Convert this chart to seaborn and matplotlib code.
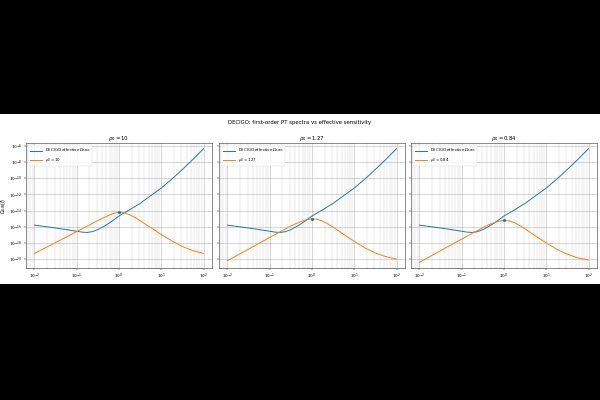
import numpy as np
import pandas as pd
import matplotlib
matplotlib.use("Agg")
import matplotlib.pyplot as plt
import seaborn as sns

# --- data (log10 values) ---
log_f_sens = [-2.0, -1.75, -1.5, -1.25, -1.0, -0.875, -0.75, -0.625, -0.5, -0.375, -0.25, -0.125,
              0.0, 0.125, 0.25, 0.375, 0.5, 0.75, 1.0, 1.25, 1.5, 1.75, 2.0]
log_omega_sens = [-15.8, -15.97, -16.15, -16.35, -16.55, -16.66, -16.7, -16.6, -16.35, -16.0, -15.6, -15.15,
                  -14.66, -14.28, -13.9, -13.5, -13.1, -12.15, -11.2, -10.1, -8.9, -7.65, -6.33]

log_f_pt = [-2.0, -1.75, -1.5, -1.25, -1.0, -0.75, -0.5, -0.375, -0.25, -0.125, 0.0,
            0.125, 0.25, 0.375, 0.5, 0.75, 1.0, 1.25, 1.5, 1.75, 2.0]
log_omega_rho10 = [-19.3, -18.63, -17.95, -17.28, -16.6, -15.92, -15.22, -14.9, -14.6, -14.33, -14.2,
                   -14.27, -14.5, -14.85, -15.25, -16.1, -16.95, -17.75, -18.45, -18.95, -19.3]
log_omega_rho127 = [-20.2, -19.48, -18.76, -18.04, -17.32, -16.6, -15.9, -15.6, -15.35, -15.12, -15.0,
                    -15.07, -15.3, -15.65, -16.05, -16.95, -17.8, -18.6, -19.25, -19.7, -20.0]
log_omega_rho084 = [-20.4, -19.68, -18.96, -18.24, -17.52, -16.8, -16.1, -15.78, -15.52, -15.32, -15.2,
                    -15.27, -15.5, -15.85, -16.25, -17.15, -18.0, -18.8, -19.4, -19.85, -20.1]

rho_labels = ["10", "1.27", "0.84"]
peak_f = [1.0, 1.0, 1.0]
peak_log_omega = [-14.2, -15.0, -15.2]

sens = pd.DataFrame({"f": 10.0 ** np.array(log_f_sens), "omega": 10.0 ** np.array(log_omega_sens)})
pt_curves = [log_omega_rho10, log_omega_rho127, log_omega_rho084]

# --- figure: wide white chart letterboxed on black ---
fig = plt.figure(figsize=(6, 4), dpi=100, facecolor="black")
fig.patches.append(plt.Rectangle((0, 0.29), 1, 0.425, transform=fig.transFigure,
                                 facecolor="white", edgecolor="none", zorder=-10))

lefts = [26 / 600, 219 / 600, 411 / 600]
axes = []
for i, left in enumerate(lefts):
    ax = fig.add_axes([left, 132 / 400, 186 / 600, 125 / 400],
                      sharey=axes[0] if axes else None)
    ax.set_zorder(1)
    axes.append(ax)

for i, ax in enumerate(axes):
    ax.set_xscale("log")
    ax.set_yscale("log")
    pt = pd.DataFrame({"f": 10.0 ** np.array(log_f_pt), "omega": 10.0 ** np.array(pt_curves[i])})
    sns.lineplot(data=sens, x="f", y="omega", ax=ax, color="#1f77b4", linewidth=0.7,
                 label=r"DECIGO effective $\Omega_{\rm sens}$")
    sns.lineplot(data=pt, x="f", y="omega", ax=ax, color="#ff7f0e", linewidth=0.7,
                 label=rf"$\rho_0 = {rho_labels[i]}$")
    ax.scatter([peak_f[i]], [10.0 ** peak_log_omega[i]], s=5, color="#1f77b4", zorder=5, linewidths=0)

    ax.set_title(rf"$\rho_0 = {rho_labels[i]}$", fontsize=3.9, pad=2)
    ax.set_xlabel(r"$f$ [Hz]", fontsize=3.3, labelpad=1)
    ax.set_ylabel(r"$\Omega_{\rm GW}(f)$" if i == 0 else "", fontsize=3.3, labelpad=1)
    ax.grid(True, which="major", color="#b0b0b0", linewidth=0.45, alpha=0.8)
    ax.grid(True, which="minor", color="#b0b0b0", linewidth=0.35, alpha=0.55)
    ax.tick_params(which="major", labelsize=3.1, length=1.5, width=0.3, pad=1)
    ax.tick_params(which="minor", length=0.8, width=0.25)
    for sp in ax.spines.values():
        sp.set_linewidth(0.4)
        sp.set_color("#333333")
    if i > 0:
        ax.tick_params(labelleft=False)
    leg = ax.legend(loc="upper left", fontsize=2.8, handlelength=3, borderpad=0.5,
                    labelspacing=0.4, framealpha=0.8)
    leg.get_frame().set_linewidth(0.3)

axes[0].set_yticks([10.0 ** k for k in range(-20, -5, 2)])

fig.suptitle("DECIGO: first-order PT spectra vs effective sensitivity", fontsize=3.9, y=0.7)

fig.savefig("out.png", dpi=100, facecolor="black")
